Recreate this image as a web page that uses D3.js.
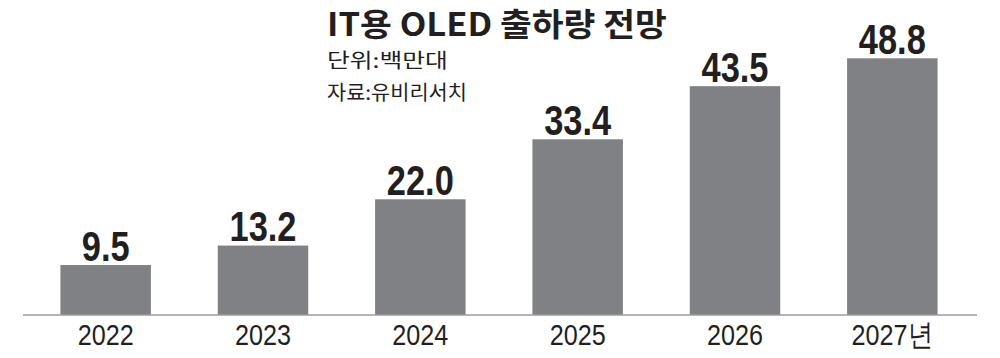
<!DOCTYPE html>
<html><head><meta charset="utf-8">
<script src="https://cdn.jsdelivr.net/npm/d3@7"></script>
<style>html,body{margin:0;padding:0;background:#fff;}svg{display:block;}</style>
</head><body>
<svg id="c" width="1000" height="358"></svg>
<script>
const categories = ["2022", "2023", "2024", "2025", "2026", "2027"];
const tickLabels = ["2022", "2023", "2024", "2025", "2026", "2027년"];
const values = [9.5, 13.2, 22.0, 33.4, 43.5, 48.8];
const valueLabels = ["9.5", "13.2", "22.0", "33.4", "43.5", "48.8"];
const title = "IT용 OLED 출하량 전망";
const unitText = "단위:백만대";
const sourceText = "자료:유비리서치";

const svg = d3.select("#c");
const x = d3.scaleBand().domain(categories).range([27, 971]).paddingInner(0.425).paddingOuter(0.2125);
const y = d3.scaleLinear().domain([0, 48.8]).range([315, 58.3]);

const TXT = "#231f20";
const fontKR = "'Noto Sans CJK KR', 'Noto Sans', sans-serif";

function stext(g, str, px, py, size, weight, sx, anchor, family) {
  return g.append("g").attr("transform", `translate(${px},${py}) scale(${sx},1)`)
    .append("text").attr("x", 0).attr("y", 0)
    .attr("text-anchor", anchor)
    .attr("font-family", family).attr("font-size", size).attr("font-weight", weight)
    .attr("fill", TXT).text(str);
}
function fitW(t, px, py, w) {
  const cw = t.node().getComputedTextLength();
  t.node().parentNode.setAttribute("transform", `translate(${px},${py}) scale(${w / cw},1)`);
}

// bars
svg.append("g").selectAll("rect").data(values).join("rect")
  .attr("x", (d, i) => x(categories[i]))
  .attr("width", x.bandwidth())
  .attr("y", d => y(d))
  .attr("height", d => y(0) - y(d))
  .attr("fill", "#808184");

// axis baseline
const axis = d3.axisBottom(x).tickSize(0).tickFormat("");
const ag = svg.append("g").attr("transform", `translate(0,${y(0)})`).call(axis);
ag.select(".domain").attr("d", "M23,0H977").attr("stroke", "#9d9d9f").attr("stroke-width", 1.6);

// tick labels
const lg = svg.append("g");
tickLabels.forEach((t, i) => {
  stext(lg, t, x(categories[i]) + x.bandwidth() / 2, 345, 30, 400, 0.84, "middle", "'Liberation Sans', Arial, sans-serif");
});

// value labels
const vg = svg.append("g");
valueLabels.forEach((t, i) => {
  stext(vg, t, x(categories[i]) + x.bandwidth() / 2, y(values[i]) - 4.5, 42, 700, 0.82, "middle", "'Liberation Sans', Arial, sans-serif");
});

// titles
const tg = svg.append("g");
fitW(stext(tg, title, 327, 36, 32, 700, 1, "start", fontKR), 327, 36, 340);
fitW(stext(tg, unitText, 327, 68, 20, 400, 1, "start", fontKR), 327, 68, 121);
fitW(stext(tg, sourceText, 327, 100, 20, 400, 1, "start", fontKR), 327, 100, 140);
</script>
</body></html>
